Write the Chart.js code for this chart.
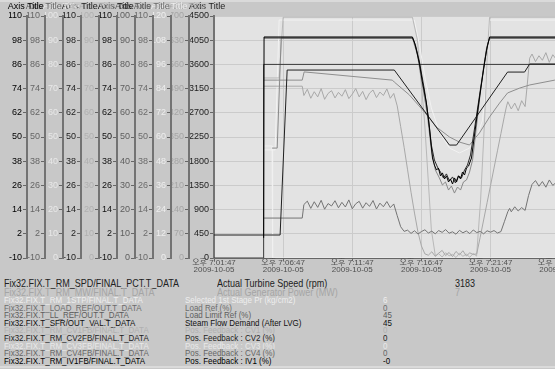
<!DOCTYPE html>
<html>
<head>
<meta charset="utf-8">
<script src="https://cdn.jsdelivr.net/npm/chart.js@4.4.1/dist/chart.umd.min.js"></script>
<style>
  html, body { margin: 0; padding: 0; }
  body { width: 555px; height: 369px; overflow: hidden; background: #c8c8c8; position: relative;
         font-family: "Liberation Sans", "Noto Sans CJK KR", sans-serif; }
  #wrap { position: absolute; left: 0; top: 0; width: 620px; height: 274px; }
  .row { position: absolute; white-space: nowrap; transform-origin: 0 50%; }
  .big { font-size: 11px; line-height: 11px; transform: scaleX(0.82); }
  .small { font-size: 9.5px; line-height: 10px; transform: scaleX(0.84); }
  .edge { position: absolute; left: 0; width: 555px; height: 2px; background: #dadada; }
</style>
</head>
<body>
<div class="edge" style="top:0"></div>
<div id="wrap"><canvas id="trend" width="620" height="274"></canvas></div>
<div id="legend"></div>
<div class="edge" style="top:366px"></div>
<script>
// pens, in the order of the historian trend
const penTags = ['Fix32.FIX.T_RM_SPD/FINAL_PCT.T_DATA', 'Fix32.FIX.T_RM_MW/FINAL.T_DATA',
  'Fix32.FIX.T_RM_1STP/FINAL.T_DATA', 'Fix32.FIX.T_LOAD_REF/OUT.T_DATA', 'Fix32.FIX.T_LL_REF/OUT.T_DATA',
  'Fix32.FIX.T_SFR/OUT_VAL.T_DATA', 'Fix32.FIX.T_RM_CV1FB/FINAL.T_DATA', 'Fix32.FIX.T_RM_CV2FB/FINAL.T_DATA',
  'Fix32.FIX.T_RM_CV3FB/FINAL.T_DATA', 'Fix32.FIX.T_RM_CV4FB/FINAL.T_DATA', 'Fix32.FIX.T_RM_IV1FB/FINAL.T_DATA'];
const penNames = ['Actual Turbine Speed (rpm)', 'Actual Generator Power (MW)', 'Selected 1st Stage Pr (kg/cm2)',
  'Load Ref (%)', 'Load Limit Ref (%)', 'Steam Flow Demand (After LVG)', 'Pos. Feedback : CV1 (%)',
  'Pos. Feedback : CV2 (%)', 'Pos. Feedback : CV3 (%)', 'Pos. Feedback : CV4 (%)', 'Pos. Feedback : IV1 (%)'];
const penNow = ['3183', '7', '6', '0', '45', '45', '0', '0', '0', '0', '-0'];

// axis tick labels
const ticksSpd = [0, 450, 900, 1350, 1800, 2250, 2700, 3150, 3600, 4050, 4500];
const ticksMw = [0, 70, 140, 210, 280, 350, 420, 490, 560, 630, 700];
const ticksStp = [0, 12, 24, 36, 48, 60, 72, 84, 96, 108, 120];
const ticksPct = [0, 10, 20, 30, 40, 50, 60, 70, 80, 90, 100];
const ticksPctWide = [-10, 2, 14, 26, 38, 50, 62, 74, 86, 98, 110];
const penTicks = [ticksSpd, ticksMw, ticksStp, ticksPctWide, ticksPct, ticksPctWide, ticksPct,
  ticksPctWide, ticksPct, ticksPctWide, ticksPctWide];

// time axis: minutes after 오후 7:01:47
const tickMinutes = [0, 5, 10, 15, 20, 25];
const tickClock = ['7:01:47', '7:06:47', '7:11:47', '7:16:47', '7:21:47', '7:26:47'];
const tickDate = '2009-10-05';

// series (time in minutes, value in pen units)
const spdT = [0, 3.55, 3.59, 29];
const spdV = [0, 0, 3600, 3600];

const mwT = [3.62, 6.38, 6.50, 6.75, 7.00, 7.25, 7.50, 7.75, 8.00, 8.25, 8.50, 8.75, 9.00, 9.25, 9.50, 9.75,
  10.00, 10.25, 10.50, 10.75, 11.00, 11.25, 11.50, 11.75, 12.00, 12.25, 12.50, 12.75, 13.00, 13.25, 13.50,
  13.75, 14.00, 14.25, 14.50, 14.75, 15.00, 15.25, 15.50, 15.75, 16.00, 16.25, 16.50, 16.75, 17.00, 17.25,
  17.50, 17.75, 18.00, 18.25, 18.50, 18.75, 19.00, 19.25, 19.50, 19.75, 20.00, 20.25, 20.50, 20.75, 21.00,
  21.16, 21.25, 21.50, 21.75, 22.00, 22.25, 22.50, 22.65, 22.83, 23.00, 23.25, 23.50, 23.75, 24.00, 24.25,
  24.50, 24.75, 25.00, 25.25, 25.50, 25.75, 26.00, 26.25, 26.50, 26.75, 27.00, 27.25, 27.50, 27.75, 28.00,
  28.25, 28.50, 28.75, 29.00];
const mwV = [497, 497, 470, 488, 462, 481, 466, 490, 459, 476, 484, 463, 479, 468, 487, 461,
  474, 490, 466, 482, 458, 477, 486, 464, 480, 470, 489, 462, 476, 440, 380,
  320, 255, 190, 130, 75, 35, 12, 8, 18, 5, 14, 22, 7, 16, 4,
  19, 9, 21, 6, 15, 10, 12, 60, 110, 160, 210, 260, 310, 360, 410,
  440, 452, 431, 448, 426, 455, 438, 500, 578, 590, 568, 585, 572, 594, 566,
  588, 575, 591, 569, 583, 571, 589, 565, 586, 574, 592, 570, 584, 568, 590,
  576, 587, 570, 582];

const stpT = [3.62, 4.42, 4.71, 14.49, 14.86, 15.29, 15.72, 16.30, 17.03, 17.75, 18.48, 19.06, 19.42, 19.64, 19.78, 19.93, 29];
const stpV = [53.6, 53.6, 118.0, 118.0, 105.6, 88.3, 74.4, 62.5, 54.5, 52.1, 54.5, 61.0, 68.4, 83.3, 100.7, 118.0, 118.0];

const loadT = [3.62, 6.38, 6.50, 6.75, 7.00, 7.25, 7.50, 7.75, 8.00, 8.25, 8.50, 8.75, 9.00, 9.25, 9.50, 9.75,
  10.00, 10.25, 10.50, 10.75, 11.00, 11.25, 11.50, 11.75, 12.00, 12.25, 12.50, 12.75, 13.00, 13.25, 13.50,
  13.75, 14.00, 14.25, 14.50, 14.75, 15.00, 15.25, 15.50, 15.75, 16.00, 16.25, 16.50, 16.75, 17.00, 17.25,
  17.50, 17.75, 18.00, 18.25, 18.50, 18.75, 19.00, 19.25, 19.50, 19.75, 20.00, 20.25, 20.50, 20.75, 21.00,
  21.25, 21.38, 21.50, 21.75, 22.00, 22.25, 22.50, 22.75, 23.00, 23.25, 23.50, 23.75, 24.00, 24.25, 24.50,
  24.75, 25.00, 25.25, 25.50, 25.75, 26.00, 26.25, 26.50, 26.75, 27.00, 27.25, 27.50, 27.75, 28.00, 28.25,
  28.50, 28.75, 29.00];
const loadV = [9.8, 9.8, 16.5, 18.2, 14.6, 17.9, 15.1, 18.6, 14.2, 17.0, 15.8, 18.4, 14.9, 17.6, 15.3, 18.8,
  14.4, 16.9, 18.1, 14.7, 17.4, 15.6, 18.5, 14.3, 17.2, 15.4, 18.0, 15.0, 16.8, 11.0, 5.5,
  3.2, 3.8, 2.2, 3.5, 1.9, 3.1, 4.0, 2.4, 3.3, 2.0, 3.6, 2.7, 4.1, 2.3, 3.0,
  1.8, 3.7, 2.5, 3.4, 2.1, 3.9, 2.6, 3.2, 2.0, 3.5, 2.8, 3.6, 2.4, 3.1, 8.0,
  13.0, 14.6, 12.9, 15.4, 13.3, 15.0, 13.6, 21.0, 26.5, 28.4, 25.6, 27.9, 25.1, 28.7, 26.0,
  27.5, 25.3, 28.9, 26.4, 27.2, 25.0, 28.2, 25.8, 27.7, 26.1, 28.5, 25.4, 27.0, 25.9, 28.6,
  26.3, 27.4, 25.7];

const llT = [3.62, 6.38, 6.52, 12.90, 13.04, 14.13, 15.22, 16.09, 17.03, 17.75, 18.48, 19.20, 19.93, 20.65, 21.23, 22.10, 22.83, 24.64, 27.90, 29];
const llV = [73.5, 73.5, 76.9, 73.5, 72.7, 67.4, 60.3, 54.1, 50.0, 47.9, 46.7, 51.7, 58.3, 64.0, 68.2, 70.2, 71.5, 73.5, 74.4, 74.4];

const sfrT = [0, 4.78, 5.29, 13.04, 17.03, 17.54, 21.23, 22.46, 22.83, 29];
const sfrV = [1.4, 1.4, 83.2, 83.2, 46.0, 46.0, 82.2, 82.2, 86.2, 86.2];

const cv1T = [3.62, 4.71, 5.00, 14.35, 14.71, 15.22, 15.72, 16.01, 16.25, 16.50, 16.75, 17.00, 17.25, 17.50, 17.75, 18.00, 18.25, 18.50, 18.75, 18.99, 19.28, 19.57, 19.78, 19.93, 29];
const cv1V = [74.4, 74.4, 99.5, 99.5, 90.1, 57.0, 11.6, 0.8, 1.8, 0.4, 2.2, 0.9, 1.5, 0.2, 2.0, 0.7, 1.6, 0.3, 1.9, 0.8, 24.0, 57.0, 85.9, 99.5, 99.5];

const cv2T = [3.62, 14.35, 14.57, 14.86, 15.22, 15.51, 15.72, 15.94, 16.16, 16.38, 16.59, 16.81, 17.03, 17.25, 17.46, 17.68, 17.90, 18.12, 18.33, 18.55, 18.77, 18.99, 19.28, 19.57, 19.78, 19.93, 29];
const cv2V = [99.1, 99.1, 95.6, 87.2, 73.3, 59.4, 46.0, 38.6, 35.1, 32.6, 29.7, 31.7, 28.2, 30.2, 27.2, 30.7, 29.7, 33.6, 36.1, 41.1, 51.0, 60.9, 74.3, 87.2, 95.6, 99.1, 99.1];

const cv3T = [3.62, 4.20, 4.24, 29];
const cv3V = [46.3, 46.3, 0, 0];

const cv4T = [4.20, 4.57, 4.86, 14.35, 14.71, 15.07, 15.43, 15.72, 16.01, 16.30, 16.52, 16.74, 16.96, 17.17, 17.39, 17.61, 17.83, 18.04, 18.26, 18.48, 18.70, 18.91, 19.20, 19.49, 19.71, 19.93, 29];
const cv4V = [44.5, 44.5, 99.1, 99.1, 90.7, 75.8, 60.9, 43.5, 33.6, 29.7, 26.2, 27.7, 23.7, 25.7, 22.2, 25.2, 23.7, 27.7, 28.7, 32.6, 38.6, 51.0, 68.4, 84.3, 94.1, 99.1, 99.1];

const ivT = [3.59, 3.62, 14.35, 14.49, 14.64, 14.86, 15.07, 15.36, 15.58, 15.80, 15.94, 16.09, 16.23, 16.38, 16.52, 16.67, 16.81, 16.96, 17.10, 17.25, 17.39, 17.54, 17.68, 17.83, 17.97, 18.12, 18.26, 18.41, 18.62, 18.84, 19.06, 19.28, 19.49, 19.71, 19.93, 29];
const ivV = [0, 99.6, 99.6, 97.1, 93.1, 86.2, 77.3, 66.9, 54.5, 39.6, 36.1, 33.6, 34.6, 30.7, 32.2, 29.2, 30.7, 27.7, 29.2, 26.7, 29.7, 27.7, 30.7, 29.2, 32.6, 31.2, 34.6, 35.6, 39.6, 51.0, 62.4, 73.3, 83.2, 93.1, 99.6, 99.6];

const penSeries = [[spdT, spdV], [mwT, mwV], [stpT, stpV], [loadT, loadV], [llT, llV], [sfrT, sfrV],
  [cv1T, cv1V], [cv2T, cv2V], [cv3T, cv3V], [cv4T, cv4V], [ivT, ivV]];

// colours
const penLine = ['#383838', '#a8a8a8', '#f2f2f2', '#747474', '#8e8e8e', '#202020', '#b8b8b8', '#2c2c2c', '#f0f0f0', '#8a8a8a', '#000000'];
const penInk = ['#222222', '#a5a5a5', '#eeeeee', '#6c6c6c', '#5e5e5e', '#111111', '#b0b0b0', '#222222', '#e8e8e8', '#666666', '#000000'];
const penDrawOrder = [3, 7, 9, 5, 6, 1, 8, 2, 10, 4, 0];

Chart.defaults.font.family = '"Liberation Sans", "Noto Sans CJK KR", sans-serif';
Chart.defaults.font.size = 9;

var plotBack = {
  id: 'plotBack',
  beforeDraw: function (chart) {
    var a = chart.chartArea, ctx = chart.ctx;
    ctx.save();
    ctx.fillStyle = '#e3e3e3';
    ctx.fillRect(a.left, a.top, a.right - a.left, a.bottom - a.top);
    ctx.restore();
  }
};

// horizontal "Axis Title" captions above each value axis
var axisCaptions = {
  id: 'axisCaptions',
  afterDraw: function (chart) {
    var ctx = chart.ctx;
    ctx.save();
    ctx.font = '9px "Liberation Sans"';
    ctx.textBaseline = 'middle';
    Object.values(chart.scales).forEach(function (s) {
      if (s.axis !== 'y') return;
      var w = ctx.measureText(String(s.max)).width;
      ctx.fillStyle = s.options.ticks.color;
      ctx.fillText('Axis Title', s.right - 5 - w, 7);
    });
    ctx.restore();
  }
};

var scales = {
  x: {
    type: 'linear',
    min: 0,
    max: 29,
    afterBuildTicks: function (s) { s.ticks = tickMinutes.map(function (v) { return { value: v }; }); },
    afterFit: function (s) { s.height = 16; },
    border: { display: true, color: '#666666', width: 1 },
    grid: { color: '#cbcbcb', tickColor: '#666666', tickLength: 3 },
    ticks: {
      color: '#505050',
      font: { size: 8, lineHeight: 0.8 },
      padding: -1,
      maxRotation: 0,
      autoSkip: false,
      callback: function (v) {
        var i = tickMinutes.indexOf(v);
        return i < 0 ? '' : ['오후 ' + tickClock[i], tickDate];
      }
    }
  }
};

penTags.forEach(function (tag, i) {
  var tk = penTicks[i];
  scales['y' + i] = {
    type: 'linear',
    position: 'left',
    weight: i,
    min: tk[0],
    max: tk[tk.length - 1],
    afterBuildTicks: function (s) { s.ticks = tk.map(function (v) { return { value: v }; }); },
    afterFit: function (s) { s.width = i === 0 ? 25 : 18; },
    border: { display: true, color: '#737373', width: 2 },
    grid: { drawOnChartArea: i === 0, color: '#cbcbcb', tickColor: '#666666', tickLength: 4 },
    ticks: {
      color: penInk[i],
      font: { size: 9 },
      padding: 1,
      autoSkip: false,
      callback: function (v) { return String(v); }
    }
  };
});

var datasets = penSeries.map(function (s, i) {
  return {
    label: penNames[i],
    data: s[0].map(function (t, k) { return { x: t, y: s[1][k] }; }),
    yAxisID: 'y' + i,
    borderColor: penLine[i],
    borderWidth: 1,
    pointRadius: 0,
    tension: 0,
    fill: false,
    order: penDrawOrder[i]
  };
});

new Chart(document.getElementById('trend').getContext('2d'), {
  type: 'line',
  data: { datasets: datasets },
  options: {
    responsive: false,
    animation: false,
    layout: { padding: { left: 9, right: 5, top: 16, bottom: 0 } },
    plugins: { legend: { display: false }, tooltip: { enabled: false } },
    scales: scales
  },
  plugins: [plotBack, axisCaptions]
});

// pen table under the trend
const rowY = [283, 292, 300, 308, 315, 322.5, 330, 338, 345.5, 353, 360.5];
var legend = document.getElementById('legend');
penTags.forEach(function (tag, i) {
  var big = i < 2;
  var cols = big ? [4, 217, 455] : [4, 185, 383];
  [tag, penNames[i], penNow[i]].forEach(function (txt, c) {
    var d = document.createElement('div');
    d.className = 'row ' + (big ? 'big' : 'small');
    d.textContent = txt;
    d.style.left = cols[c] + 'px';
    d.style.top = (rowY[i] - (big ? 5.5 : 5)) + 'px';
    d.style.color = penInk[i];
    legend.appendChild(d);
  });
});
</script>
</body>
</html>
